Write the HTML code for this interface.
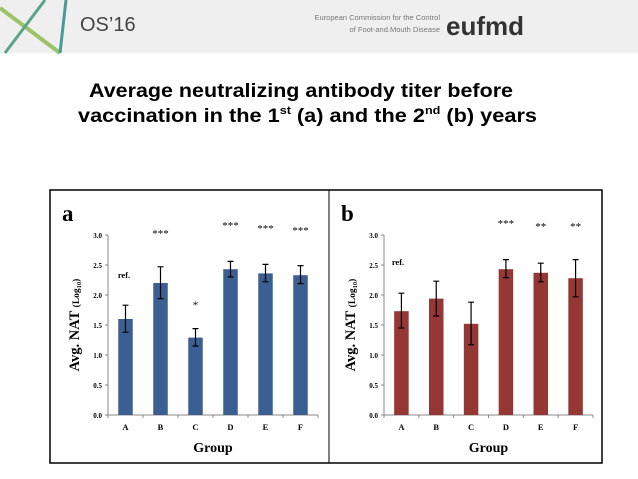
<!DOCTYPE html>
<html><head><meta charset="utf-8"><style>
html,body{margin:0;padding:0;background:#fff;}
svg{display:block;font-family:"Liberation Serif",serif;}
</style></head><body>
<svg id="s" width="638" height="479" viewBox="0 0 638 479" xmlns="http://www.w3.org/2000/svg">
<rect x="0" y="0" width="638" height="53" fill="#efefef"/>
<line x1="0" y1="8" x2="60" y2="53" stroke="#9cc36a" stroke-width="4"/>
<line x1="5" y1="53" x2="45" y2="0" stroke="#5aa58a" stroke-width="3"/>
<line x1="60" y1="53" x2="66" y2="0" stroke="#4a9b96" stroke-width="3"/>
<text x="80" y="31" font-family="Liberation Sans,sans-serif" font-size="20" fill="#444">OS’16</text>
<text x="440" y="20" font-family="Liberation Sans,sans-serif" font-size="7.5" fill="#777" text-anchor="end">European Commission for the Control</text>
<text x="440" y="32" font-family="Liberation Sans,sans-serif" font-size="7.5" fill="#777" text-anchor="end">of Foot-and.Mouth Disease</text>
<text x="446" y="35" font-family="Liberation Sans,sans-serif" font-size="26" font-weight="bold" fill="#333">eufmd</text>
<text x="301" y="97" font-family="Liberation Sans,sans-serif" font-size="19" font-weight="bold" fill="#000" text-anchor="middle" textLength="424" lengthAdjust="spacingAndGlyphs">Average neutralizing antibody titer before</text>
<text x="78" y="122" font-family="Liberation Sans,sans-serif" font-size="19" font-weight="bold" fill="#000" textLength="459" lengthAdjust="spacingAndGlyphs">vaccination in the 1<tspan font-size="11" dy="-8">st</tspan><tspan dy="8"> (a) and the 2</tspan><tspan font-size="11" dy="-8">nd</tspan><tspan dy="8"> (b) years</tspan></text>
<rect x="50" y="190" width="552" height="273" fill="none" stroke="#000" stroke-width="1.5"/>
<line x1="329" y1="190" x2="329" y2="463" stroke="#000" stroke-width="1"/>
<g id="ga"></g><g id="gb"></g>
</svg>
<script>
var categories=["A","B","C","D","E","F"];
var valuesA=[1.60,2.20,1.29,2.43,2.36,2.33];
var errLowA=[1.38,1.94,1.15,2.30,2.22,2.19];
var errHighA=[1.83,2.47,1.44,2.56,2.51,2.49];
var starsA=["","***","*","***","***","***"];
var valuesB=[1.73,1.94,1.52,2.43,2.37,2.28];
var errLowB=[1.45,1.65,1.17,2.29,2.22,1.97];
var errHighB=[2.03,2.23,1.88,2.59,2.53,2.59];
var starsB=["","","","***","**","**"];
var yTicks=[0,0.5,1.0,1.5,2.0,2.5,3.0];
var NS="http://www.w3.org/2000/svg";
function mk(g,t,a,txt){var e=document.createElementNS(NS,t);for(var k in a)e.setAttribute(k,a[k]);if(txt!=null)e.textContent=txt;g.appendChild(e);return e;}
function panel(gid,o){
  var g=document.getElementById(gid);
  var y0=415,y3=235;
  function Y(v){return y0-(v/3)*(y0-y3);}
  var step=(o.xEnd-o.ax)/6;
  function X(i){return o.ax+step*(i+0.5);}
  var e;
  e=mk(g,"text",{x:o.lx,y:221,"font-size":23,"font-weight":"bold"},o.letter);
  
  
  e=mk(g,"line",{x1:o.ax,y1:y3,x2:o.ax,y2:y0,stroke:"#888","stroke-width":1});
  
  
  e=mk(g,"line",{x1:o.ax,y1:y0,x2:o.xEnd,y2:y0,stroke:"#888","stroke-width":1});
  
  
  yTicks.forEach(function(t){
    mk(g,"line",{x1:o.ax-3,y1:Y(t),x2:o.ax,y2:Y(t),stroke:"#888"});
    e=mk(g,"text",{x:o.ax-6,y:Y(t)+3,"font-size":7,"font-weight":"bold","text-anchor":"end"},t.toFixed(1));
    
    
  });
  for(var i=0;i<=6;i++)mk(g,"line",{x1:o.ax+step*i,y1:y0,x2:o.ax+step*i,y2:y0+3,stroke:"#888"});
  var bw=14.5;
  categories.forEach(function(c,i){
    var x=X(i),v=o.vals[i];
    e=mk(g,"rect",{x:x-bw/2,y:Y(v),width:bw,height:y0-Y(v),fill:o.color});
    
    
    e=mk(g,"path",{d:"M"+x+" "+Y(o.lo[i])+"V"+Y(o.hi[i])+"M"+(x-3)+" "+Y(o.lo[i])+"h6M"+(x-3)+" "+Y(o.hi[i])+"h6",stroke:"#000","stroke-width":1.2,fill:"none"});
    
    
    e=mk(g,"text",{x:x,y:430,"font-size":8.5,"font-weight":"bold","text-anchor":"middle"},c);
    
    
    if(o.stars[i]){
      var sy=o.stars[i]==="*"?Y(o.hi[i])-20:o.starY[i];
      e=mk(g,"text",{x:x,y:sy,"font-size":11,"text-anchor":"middle"},o.stars[i]);
      
      
    }
  });
  e=mk(g,"text",{x:o.refx,y:o.refy,"font-size":8.5,"font-weight":"bold","text-anchor":"middle"},"ref.");
  
  
  e=mk(g,"text",{x:(o.ax+o.xEnd)/2,y:452,"font-size":14,"font-weight":"bold","text-anchor":"middle"},"Group");
  
  
  var ty=mk(g,"text",{transform:"translate("+(o.ax-29)+",325) rotate(-90)","font-size":14.5,"font-weight":"bold","text-anchor":"middle"},null);
  
  
  ty.innerHTML='Avg. NAT <tspan font-size="9.5">(Log</tspan><tspan font-size="6.5" dy="2">10</tspan><tspan font-size="9.5" dy="-2">)</tspan>';
}
panel("ga",{letter:"a",lx:62,ax:108,xEnd:318,color:"#3b5f92",vals:valuesA,lo:errLowA,hi:errHighA,stars:starsA,starY:[0,237,0,229,232,234],refx:124,refy:278});
panel("gb",{letter:"b",lx:341,ax:384,xEnd:593,color:"#943735",vals:valuesB,lo:errLowB,hi:errHighB,stars:starsB,starY:[0,0,0,227,230,230],refx:398,refy:265});
</script>
</body></html>
